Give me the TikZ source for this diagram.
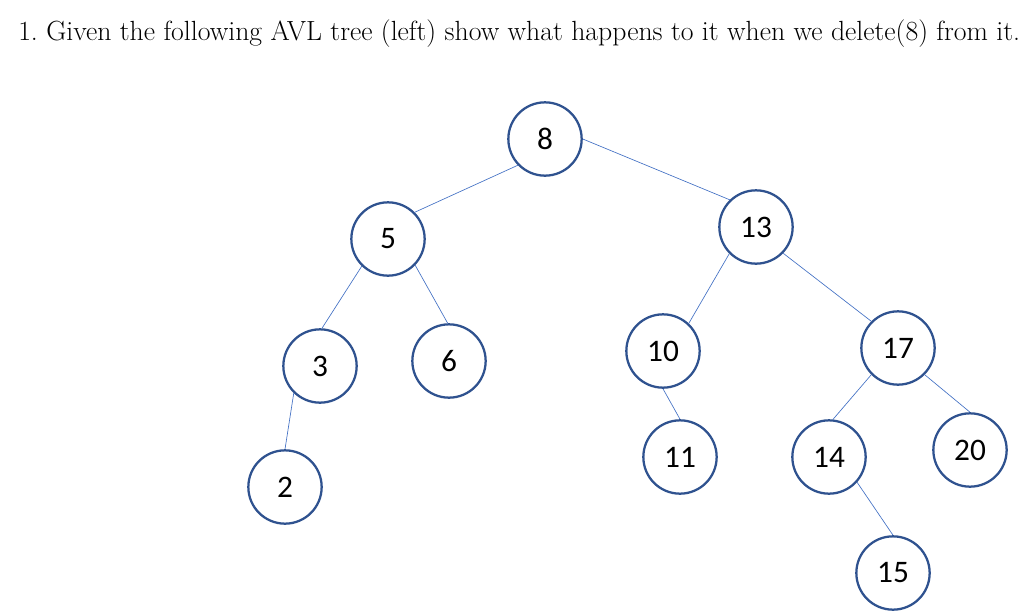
\documentclass[tikz,border=0pt]{standalone}
\usepackage{fontspec}
\newfontfamily\keyfont{Carlito}
\definecolor{ring}{RGB}{47,82,143}
\definecolor{link}{RGB}{68,114,196}

\begin{document}
\begin{tikzpicture}[
  x=0.75pt,y=-0.75pt,
  key/.style={circle,draw=ring,line width=1.7pt,fill=white,
              minimum size=55pt,inner sep=0pt,
              font=\keyfont\fontsize{23.5}{26}\selectfont},
  edge/.style={draw=link,line width=0.5pt},
  task/.style={font=\fontsize{20.8}{24}\selectfont,anchor=base west,inner sep=0pt},
]
\useasboundingbox (0,0) rectangle (1024,614);

% ---- question ----
\node[task] (q) at (18,40)
  {1.\ Given the following AVL tree (left) show what happens to it when we delete(8) from it.};

% ---- keys ----
\node[key] (k8)  at (545,139) {8};
\node[key] (k5)  at (388,239) {5};
\node[key] (k13) at (756,227) {13};
\node[key] (k3)  at (320,366) {3};
\node[key] (k6)  at (449,361) {6};
\node[key] (k10) at (663,351) {10};
\node[key] (k17) at (898,348) {17};
\node[key] (k11) at (680,457) {11};
\node[key] (k14) at (829,457) {14};
\node[key] (k20) at (970,450) {20};
\node[key] (k2)  at (285,487) {2};
\node[key] (k15) at (893,573) {15};

% ---- links (parent anchor / child anchor) ----
\foreach \a/\pa/\b/\pb in {k8/224/k5/45, k8/0/k13/134, k5/226/k3/87,
                           k5/316/k6/92, k3/226/k2/90, k13/225/k10/47,
                           k13/316/k17/135, k10/270/k11/90, k17/225/k14/84,
                           k17/315/k20/90, k14/318/k15/90}{
  \draw[edge] (\a.\pa) -- (\b.\pb);
}

\end{tikzpicture}
\end{document}
